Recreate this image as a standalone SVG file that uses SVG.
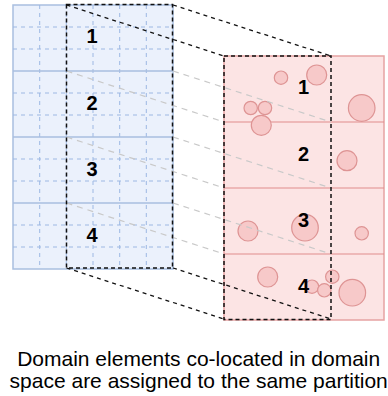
<svg xmlns="http://www.w3.org/2000/svg" width="388" height="396" viewBox="0 0 388 396">
<style>
.blue{fill:#ebf1fc;stroke:#a9bfe0;stroke-width:1.5}
.bsolid{stroke:#a9bfe0;stroke-width:1.5;fill:none}
.bdash{stroke:#9db8e3;stroke-width:1;stroke-dasharray:4 4;fill:none}
.red{fill:#fce4e4;stroke:#e6a3a3;stroke-width:1.5}
.rsolid{stroke:#e08c8c;stroke-width:1.2;fill:none}
.dot{fill:#f7c9c9;stroke:#de9494;stroke-width:1.2}
.sel{fill:none;stroke:#111;stroke-width:1.5;stroke-dasharray:4 3}
.con{fill:none;stroke:#111;stroke-width:1.3;stroke-dasharray:4 4}
.gcon{fill:none;stroke:#c9c9c9;stroke-width:1.2;stroke-dasharray:6 5}
.num{font-family:"Liberation Sans",Arial,sans-serif;font-size:20px;font-weight:bold;fill:#000;text-anchor:middle}
.cap{font-family:"Liberation Sans",Arial,sans-serif;font-size:21px;fill:#000;text-anchor:middle}
</style>
<g id="domain-space">
<rect class="blue" x="13" y="5" width="160" height="264"/>
<path class="bdash" d="M39.7 5V269M66.3 5V269M93 5V269M119.7 5V269M146.3 5V269"/>
<path class="bdash" d="M13 27H173M13 49H173M13 93H173M13 115H173M13 159H173M13 181H173M13 225H173M13 247H173"/>
<path class="bsolid" d="M13 71H173M13 137H173M13 203H173"/>
</g>
<g id="partition-space">
<rect class="red" x="224" y="56" width="160" height="264"/>
<path class="rsolid" d="M224 122H384M224 188H384M224 254H384"/>
<circle class="dot" cx="281" cy="77.7" r="6.7"/>
<circle class="dot" cx="316.7" cy="75" r="10"/>
<circle class="dot" cx="250.7" cy="108" r="6.7"/>
<circle class="dot" cx="265" cy="108" r="6.7"/>
<circle class="dot" cx="261.3" cy="125.3" r="10"/>
<circle class="dot" cx="361.7" cy="108" r="13.3"/>
<circle class="dot" cx="347" cy="160.7" r="10"/>
<circle class="dot" cx="248" cy="231" r="10"/>
<circle class="dot" cx="305" cy="227.7" r="13.3"/>
<circle class="dot" cx="361.7" cy="233.3" r="6.7"/>
<circle class="dot" cx="267.7" cy="277" r="10"/>
<circle class="dot" cx="332.3" cy="276.7" r="6.7"/>
<circle class="dot" cx="312" cy="286.7" r="6.7"/>
<circle class="dot" cx="324.3" cy="290.3" r="6.7"/>
<circle class="dot" cx="352.3" cy="292.7" r="13.3"/>
</g>
<g id="connectors">
<path class="gcon" d="M66.5 71L224 122M173 71L331 122M66.5 137L224 188M173 137L331 188M66.5 203L224 254M173 203L331 254"/>
<path class="con" d="M66.5 5L224 56M173 5L331 56M66.5 268L224 319M173 268L331 319"/>
</g>
<g id="selection-left"><rect class="sel" x="66.5" y="4.5" width="106" height="263.5"/></g>
<g id="selection-right"><rect class="sel" x="224" y="56" width="107" height="263.5"/></g>
<g id="labels-left">
<text class="num" x="92" y="43.3">1</text>
<text class="num" x="92" y="109.5">2</text>
<text class="num" x="92" y="175.6">3</text>
<text class="num" x="92" y="241.7">4</text>
</g>
<g id="labels-right">
<text class="num" x="303.5" y="94">1</text>
<text class="num" x="303.5" y="160.5">2</text>
<text class="num" x="303.5" y="226.5">3</text>
<text class="num" x="303.5" y="292.5">4</text>
</g>
<g id="caption">
<text class="cap" x="198.7" y="365.7">Domain elements co-located in domain</text>
<text class="cap" x="198.7" y="388">space are assigned to the same partition</text>
</g>
</svg>
